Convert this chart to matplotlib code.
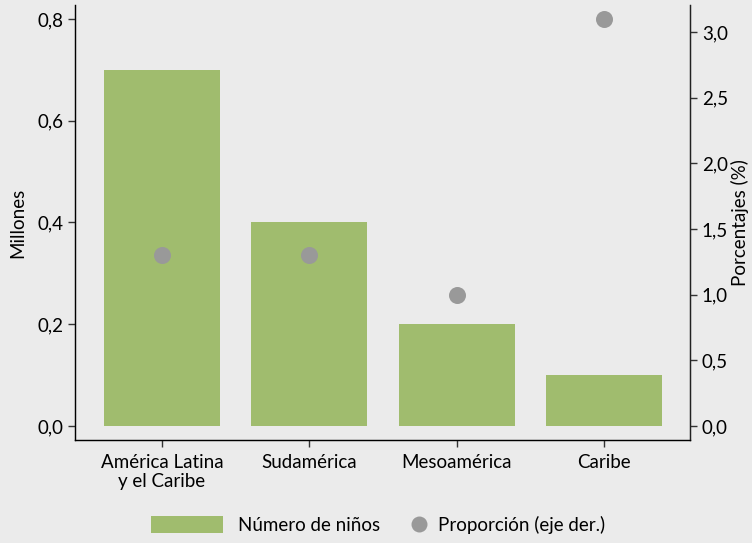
import matplotlib
matplotlib.use("Agg")
import matplotlib.pyplot as plt
from matplotlib.patches import Patch
from matplotlib.lines import Line2D
from matplotlib.ticker import FuncFormatter

plt.rcParams['font.family'] = ['Lato', 'DejaVu Sans']

categories = ["América Latina\ny el Caribe", "Sudamérica", "Mesoamérica", "Caribe"]
ninos_millones = [0.70, 0.40, 0.20, 0.10]
proporcion_pct = [1.30, 1.30, 1.00, 3.10]
left_ticks = [0.0, 0.2, 0.4, 0.6, 0.8]
right_ticks = [0.0, 0.5, 1.0, 1.5, 2.0, 2.5, 3.0]

bg = "#ebebeb"
bar_color = "#a0bc6e"
dot_color = "#999999"
fs = 13.5

fig = plt.figure(figsize=(7.52, 5.43), dpi=100, facecolor=bg)
ax = fig.add_axes([0.0997, 0.1897, 0.8179, 0.8011])
ax.set_facecolor(bg)
x = list(range(len(categories)))
ax.bar(x, ninos_millones, width=0.787, color=bar_color, zorder=2)
ax.set_xlim(-0.59, 3.585)
ax.set_ylim(-0.0275, 0.8275)
ax.set_yticks(left_ticks)
ax.yaxis.set_major_formatter(FuncFormatter(lambda v, p: f"{v:.1f}".replace(".", ",")))
ax.set_xticks(x)
ax.set_xticklabels(categories, fontsize=fs, linespacing=1.15)
ax.tick_params(axis='both', labelsize=fs, length=5, width=1, color="#333333", direction='out')
ax.tick_params(axis='x', pad=5)
ax.spines['top'].set_visible(False)
for s in ['left', 'bottom', 'right']:
    ax.spines[s].set_color("#222222")
    ax.spines[s].set_linewidth(1)
ax.set_ylabel("Millones", fontsize=fs, labelpad=8)

ax2 = ax.twinx()
ax2.scatter(x, proporcion_pct, s=150, color=dot_color, zorder=3, linewidths=0)
ax2.set_ylim(-0.107, 3.206)
ax2.set_yticks(right_ticks)
ax2.yaxis.set_major_formatter(FuncFormatter(lambda v, p: f"{v:.1f}".replace(".", ",")))
ax2.tick_params(axis='y', labelsize=fs, length=5, width=1, color="#333333")
ax2.spines['top'].set_visible(False)
ax2.spines['right'].set_color("#222222")
ax2.set_ylabel("Porcentajes (%)", fontsize=fs, labelpad=2)

h1 = [Patch(facecolor=bar_color, edgecolor='none', label="Número de niños")]
h2 = [Line2D([], [], marker='o', linestyle='none', markersize=11.5, color=dot_color,
             markeredgewidth=0, label="Proporción (eje der.)")]
leg1 = fig.legend(handles=h1, loc='center left', bbox_to_anchor=(151 / 752, 18 / 543),
                  frameon=False, fontsize=fs, handlelength=3.84, handleheight=0.96,
                  handletextpad=0.8, borderpad=0, borderaxespad=0)
leg2 = fig.legend(handles=h2, loc='center left', bbox_to_anchor=(410 / 752, 18 / 543),
                  frameon=False, fontsize=fs, handlelength=1.0,
                  handletextpad=0.5, borderpad=0, borderaxespad=0)

fig.savefig("out.png", dpi=100, facecolor=bg)
